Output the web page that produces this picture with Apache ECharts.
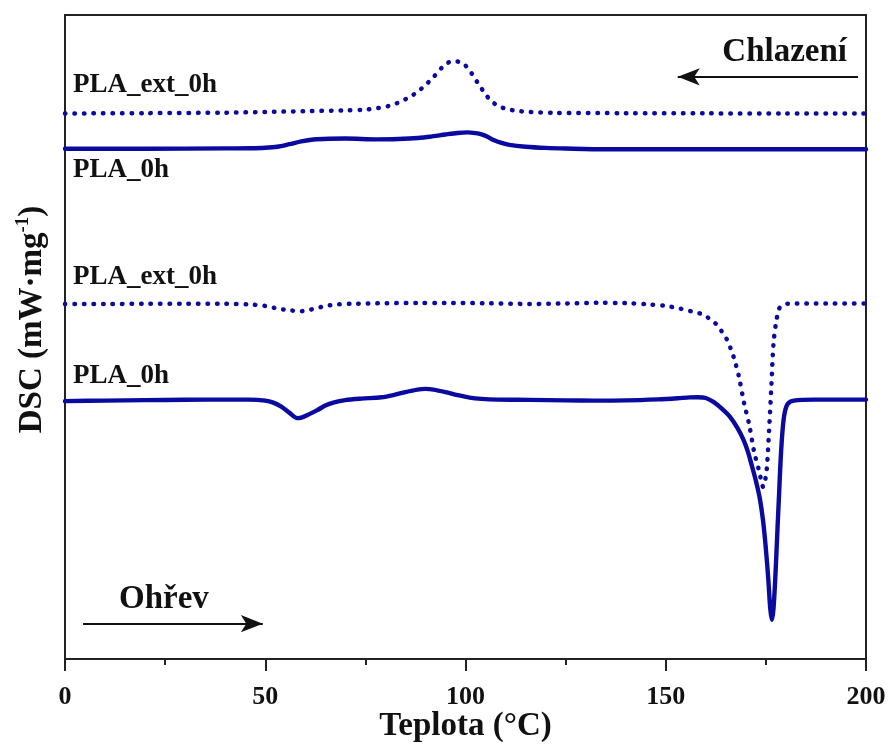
<!DOCTYPE html>
<html>
<head>
<meta charset="utf-8">
<title>DSC PLA</title>
<script src="https://cdn.jsdelivr.net/npm/echarts@6/dist/echarts.min.js"></script>
<style>
  html, body { margin: 0; padding: 0; background: #fff; }
  #chart { width: 888px; height: 744px; }
</style>
</head>
<body>
<div id="chart"></div>
<script>
// DSC thermograms: temperature (°C) vs. heat flow, curves shifted vertically.
const xTicks = [0, 50, 100, 150, 200];

// Cooling scan, PLA_ext_0h (dotted)
const coolExt = [
  [0, 2.847], [20, 2.85], [40, 2.855], [50, 2.862], [60, 2.87], [70, 2.878], [75, 2.885],
  [78, 2.9], [81, 2.923], [83.5, 2.96], [86, 3.01], [88, 3.063], [90, 3.13], [92, 3.21],
  [94, 3.3], [95.5, 3.35], [97.1, 3.373], [98.5, 3.36], [99.5, 3.345], [101, 3.277],
  [102.3, 3.2], [103.5, 3.125], [105, 3.04], [106.3, 2.975], [108.3, 2.92], [110.4, 2.89],
  [113, 2.872], [116, 2.862], [122, 2.853], [140, 2.85], [160, 2.848], [180, 2.847], [200, 2.847]
];

// Cooling scan, PLA_0h (solid)
const coolNeat = [
  [0, 2.495], [20, 2.495], [40, 2.498], [46, 2.5], [50, 2.505], [53, 2.515], [56, 2.54],
  [59, 2.568], [62, 2.587], [66, 2.595], [70, 2.597], [78, 2.588], [86, 2.597], [91, 2.615],
  [95, 2.637], [98, 2.652], [100.5, 2.658], [102.5, 2.65], [104, 2.638], [105.5, 2.615],
  [107, 2.582], [109, 2.553], [111, 2.533], [115, 2.515], [120, 2.503], [125, 2.497],
  [135, 2.49], [160, 2.49], [200, 2.49]
];

// Heating scan, PLA_ext_0h (dotted)
const heatExt = [
  [0, 0.945], [10, 0.945], [20, 0.947], [30, 0.948], [40, 0.947], [46, 0.94], [50, 0.925],
  [53, 0.9], [56, 0.882], [59, 0.873], [61, 0.885], [63, 0.905], [65, 0.925], [68, 0.94],
  [72, 0.947], [80, 0.952], [88, 0.955], [95, 0.955], [105, 0.952], [116, 0.945], [125, 0.95],
  [133, 0.956], [140, 0.953], [146, 0.94], [150, 0.925], [153.75, 0.897], [156.5, 0.87],
  [158.75, 0.847], [160.5, 0.81], [162.5, 0.747], [164, 0.67], [165.4, 0.58], [166.3, 0.49],
  [167.1, 0.397], [168.3, 0.213], [169.6, -0.053], [170.8, -0.253], [172.1, -0.537],
  [173.3, -0.72], [173.9, -0.83], [174.3, -0.88], [174.8, -0.82], [175.25, -0.687],
  [175.8, -0.32], [176.4, 0.147], [176.9, 0.547], [177.5, 0.747], [178.3, 0.897],
  [179.3, 0.935], [180.4, 0.947], [190, 0.95], [200, 0.95]
];

// Heating scan, PLA_0h (solid)
const heatNeat = [
  [0, -0.025], [10, -0.02], [20, -0.015], [30, -0.012], [40, -0.01], [46, -0.01], [50, -0.02],
  [52, -0.04], [54, -0.08], [56, -0.14], [58, -0.195], [59, -0.19], [61, -0.155], [63, -0.115],
  [65, -0.07], [67, -0.04], [70, -0.015], [74, 0.0], [79, 0.013], [82, 0.035], [85, 0.065],
  [88, 0.09], [90, 0.097], [92, 0.09], [95, 0.065], [98, 0.035], [101, 0.01], [104, -0.003],
  [108, -0.01], [116, -0.013], [125, -0.018], [132, -0.02], [140, -0.018], [148, -0.008],
  [153, 0.003], [156, 0.012], [158, 0.013], [160, 0.006], [162, -0.035], [164, -0.1],
  [166, -0.18], [168, -0.3], [169.5, -0.42], [170.5, -0.53], [171.5, -0.67], [172.5, -0.82],
  [173.5, -1.0], [174.3, -1.22], [175, -1.5], [175.6, -1.8], [176.1, -2.1], [176.5, -2.21],
  [176.9, -2.1], [177.4, -1.75], [177.9, -1.3], [178.3, -0.95], [178.7, -0.6], [179.2, -0.3],
  [179.7, -0.14], [180.5, -0.05], [182, -0.02], [187, -0.01], [195, -0.01], [200, -0.01]
];

// Direction arrows (data coordinates: start, tip)
const coolArrow = [[198, 3.213], [153, 3.213]];
const heatArrow = [[4.5, -2.247], [49.4, -2.247]];

const FONT = '"Liberation Serif", "Times New Roman", serif';
const BLUE = '#0a0aa0';
const INK = '#111';

const chart = echarts.init(document.getElementById('chart'), null, { renderer: 'canvas' });

const dotted = { width: 4.5, color: BLUE, type: [0.5, 9.0], cap: 'round' };
const solid = { width: 4.4, color: BLUE, type: 'solid', cap: 'round', join: 'round' };

function curve(name, data, style, extra) {
  return Object.assign({
    name, type: 'line', data, showSymbol: false, symbol: 'none',
    smooth: 0.3, lineStyle: style, silent: true, animation: false, z: 3
  }, extra || {});
}

const arrowLine = (pts) => [{ coord: pts[0] }, { coord: pts[1] }];

chart.setOption({
  backgroundColor: '#fff',
  animation: false,
  grid: {
    left: 65, right: 22, top: 15, bottom: 85,
    outerBoundsMode: 'none', containLabel: false,
    show: true, borderColor: '#222', borderWidth: 2, backgroundColor: 'transparent'
  },
  xAxis: {
    type: 'value', min: xTicks[0], max: xTicks[xTicks.length - 1], interval: 50,
    name: 'Teplota (°C)', nameLocation: 'middle', nameGap: 51, nameMoveOverlap: false,
    nameTextStyle: { fontFamily: FONT, fontWeight: 'bold', fontSize: 33, color: INK },
    axisLine: { show: true, onZero: false, lineStyle: { color: '#222', width: 2 } },
    axisTick: { show: true, inside: false, length: 12, lineStyle: { color: '#222', width: 2 } },
    minorTick: { show: true, splitNumber: 2, length: 6, lineStyle: { color: '#222', width: 2 } },
    axisLabel: { fontFamily: FONT, fontWeight: 'bold', fontSize: 26, color: INK, margin: 25 },
    splitLine: { show: false }
  },
  yAxis: {
    type: 'value', min: -2.6, max: 3.83,
    name: '{a|DSC (mW·mg}{s|-1}{a|)}', nameLocation: 'middle', nameRotate: 90, nameGap: 15,
    nameTextStyle: {
      padding: [0, 0, 0, 35],
      rich: {
        a: { fontFamily: FONT, fontWeight: 'bold', fontSize: 33, color: INK, lineHeight: 36 },
        s: { fontFamily: FONT, fontWeight: 'bold', fontSize: 19, color: INK, verticalAlign: 'top', lineHeight: 36 }
      }
    },
    axisLine: { show: true, onZero: false, lineStyle: { color: '#222', width: 2 } },
    axisTick: { show: false },
    axisLabel: { show: false },
    splitLine: { show: false }
  },
  series: [
    curve('PLA_ext_0h (chlazení)', coolExt, dotted, {
      markLine: {
        silent: true, animation: false,
        symbol: ['none', 'arrow'], symbolSize: [13, 22],
        lineStyle: { color: '#111', width: 2, type: 'solid' },
        label: { show: false },
        data: [arrowLine(coolArrow), arrowLine(heatArrow)]
      }
    }),
    curve('PLA_0h (chlazení)', coolNeat, solid),
    curve('PLA_ext_0h (ohřev)', heatExt, dotted),
    curve('PLA_0h (ohřev)', heatNeat, solid)
  ],
  graphic: [
    { type: 'text', left: 73, top: 72, style: { text: 'PLA_ext_0h', font: 'bold 27px ' + FONT, fill: INK } },
    { type: 'text', left: 73, top: 157, style: { text: 'PLA_0h', font: 'bold 27px ' + FONT, fill: INK } },
    { type: 'text', left: 73, top: 264, style: { text: 'PLA_ext_0h', font: 'bold 27px ' + FONT, fill: INK } },
    { type: 'text', left: 73, top: 363, style: { text: 'PLA_0h', font: 'bold 27px ' + FONT, fill: INK } },
    { type: 'text', right: 41, top: 36, style: { text: 'Chlazení', font: 'bold 33px ' + FONT, fill: INK } },
    { type: 'text', left: 119, top: 583, style: { text: 'Ohřev', font: 'bold 33px ' + FONT, fill: INK } }
  ]
});
</script>
</body>
</html>
